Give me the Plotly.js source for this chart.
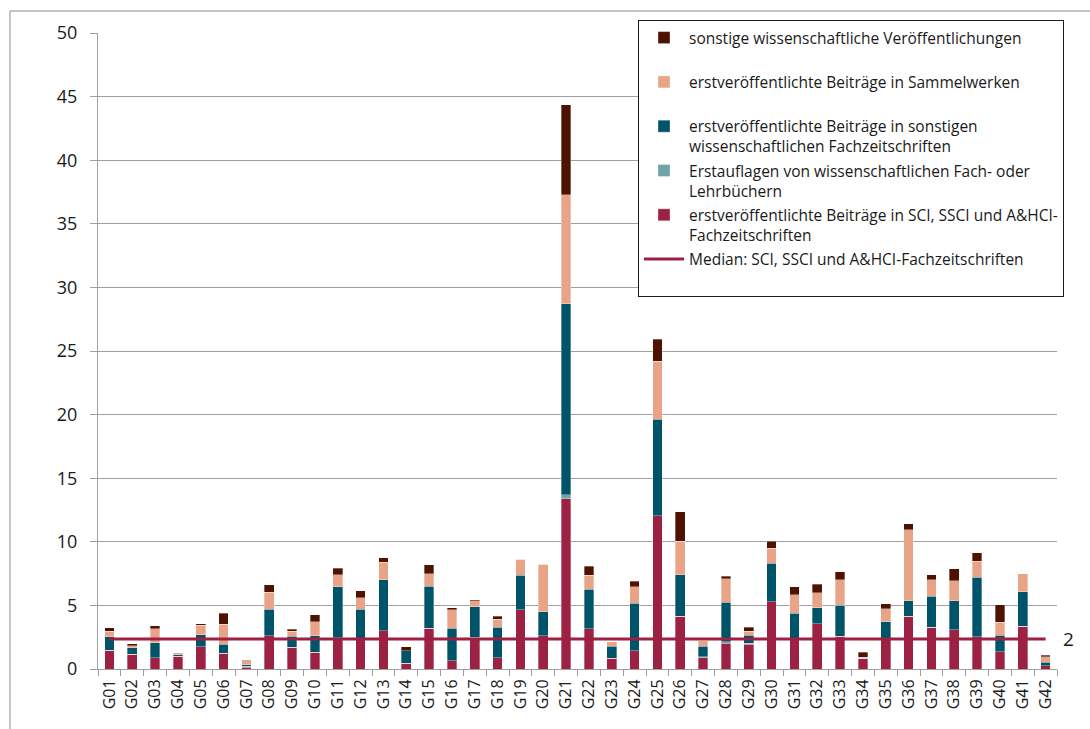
<!DOCTYPE html>
<html>
<head>
<meta charset="utf-8">
<script src="https://cdn.plot.ly/plotly-3.0.1.min.js"></script>
<style>html,body{margin:0;padding:0;background:#fff;}#chart{width:1090px;height:729px;}</style>
</head>
<body>
<div id="chart"></div>
<script>
const categories = ["G01","G02","G03","G04","G05","G06","G07","G08","G09","G10","G11","G12","G13","G14","G15","G16","G17","G18","G19","G20","G21","G22","G23","G24","G25","G26","G27","G28","G29","G30","G31","G32","G33","G34","G35","G36","G37","G38","G39","G40","G41","G42"];

// erstveröffentlichte Beiträge in SCI, SSCI und A&HCI-Fachzeitschriften
const sciJournals = [1.49,1.15,0.90,1.02,1.75,1.25,0.15,2.62,1.70,1.31,2.45,2.40,3.02,0.44,3.19,0.65,2.50,0.87,4.66,2.63,13.37,3.17,0.83,1.45,12.04,4.14,0.89,2.02,1.94,5.27,2.38,3.54,2.57,0.84,2.38,4.14,3.30,3.09,2.52,1.36,3.38,0.26];
// Erstauflagen von wissenschaftlichen Fach- oder Lehrbüchern
const textbooks = [0,0,0,0,0,0,0.05,0,0,0,0,0,0,0,0,0,0,0,0,0,0.33,0,0,0,0,0,0.08,0.13,0.08,0,0,0,0,0,0,0,0,0,0,0,0,0];
// erstveröffentlichte Beiträge in sonstigen wissenschaftlichen Fachzeitschriften
const otherJournals = [1.05,0.52,1.18,0.10,0.95,0.68,0.12,2.07,0.87,1.30,4.00,2.30,4.00,1.00,3.30,2.54,2.40,2.41,2.73,1.87,15.00,3.10,0.95,3.73,7.60,3.26,0.81,3.09,0.63,3.04,2.00,1.26,2.43,0.10,1.34,1.23,2.41,2.28,4.69,1.29,2.70,0.29];
// erstveröffentlichte Beiträge in Sammelwerken
const collections = [0.42,0.15,1.08,0.16,0.73,1.60,0.40,1.36,0.39,1.10,0.96,0.90,1.39,0,0.98,1.45,0.46,0.65,1.23,3.72,8.60,1.10,0.38,1.30,4.56,2.66,0.45,1.84,0.31,1.20,1.44,1.20,2.00,0,1.02,5.58,1.29,1.57,1.28,1.04,1.39,0.42];
// sonstige wissenschaftliche Veröffentlichungen
const otherPubs = [0.29,0.15,0.23,0,0.13,0.87,0,0.58,0.18,0.57,0.53,0.55,0.34,0.32,0.73,0.16,0.08,0.21,0,0,7.05,0.71,0,0.41,1.72,2.31,0,0.21,0.34,0.55,0.63,0.66,0.65,0.37,0.40,0.48,0.42,0.95,0.66,1.37,0,0.13];

const medianSCI = 2.35;
const medianLabel = "2";

const names = {
  other: "sonstige wissenschaftliche Veröffentlichungen<br> ",
  coll: "erstveröffentlichte Beiträge in Sammelwerken<br> ",
  oj: "erstveröffentlichte Beiträge in sonstigen<br>wissenschaftlichen Fachzeitschriften",
  tb: "Erstauflagen von wissenschaftlichen Fach- oder<br>Lehrbüchern",
  sci: "erstveröffentlichte Beiträge in SCI, SSCI und A&HCI-<br>Fachzeitschriften",
  med: "Median: SCI, SSCI und A&HCI-Fachzeitschriften<br> "
};

const colors = {
  other: "#4E1200",
  coll: "#E9A488",
  oj: "#00546A",
  tb: "#6FA5A6",
  sci: "#9C2143"
};

const barLine = {width: 0.6, color: "rgba(255,255,255,0.55)"};

function barTrace(y, key, rank) {
  return {
    type: "bar", x: categories, y: y, name: names[key],
    marker: {color: colors[key], line: barLine},
    legendrank: rank, legendgroup: key, hoverinfo: "x+y"
  };
}

const traces = [
  barTrace(sciJournals, "sci", 5),
  barTrace(textbooks, "tb", 4),
  barTrace(otherJournals, "oj", 3),
  barTrace(collections, "coll", 2),
  barTrace(otherPubs, "other", 1),
  {
    type: "scatter", mode: "lines", x: categories,
    y: categories.map(() => medianSCI),
    name: names.med, legendrank: 6, legendgroup: "med",
    line: {color: "#9C2143", width: 3}
  }
];

const gridColor = "#9f9f9f";
const fontFam = "'Open Sans', Lato, sans-serif";
const layout = {
  width: 1090, height: 729,
  margin: {l: 98, r: 33, t: 33, b: 60},
  paper_bgcolor: "#ffffff", plot_bgcolor: "#ffffff",
  barmode: "stack", bargap: 0.58,
  font: {family: fontFam, color: "#1a1a1a"},
  showlegend: true,
  legend: {
    x: 0.5631, y: 1.0204, xanchor: "left", yanchor: "top",
    bgcolor: "#ffffff", bordercolor: "#1a1a1a", borderwidth: 1,
    font: {size: 15.5, family: fontFam, color: "#1a1a1a"},
    traceorder: "grouped", tracegroupgap: 1, valign: "top", itemwidth: 40
  },
  xaxis: {
    type: "category", tickangle: -90, tickson: "boundaries",
    ticks: "outside", ticklen: 6, tickcolor: gridColor,
    showline: true, linecolor: gridColor, linewidth: 1,
    showgrid: false, tickfont: {size: 16}, ticklabelstandoff: 3,
    range: [-0.5, categories.length - 0.5]
  },
  yaxis: {
    range: [0, 50], dtick: 5, tick0: 0,
    ticks: "outside", ticklen: 7, tickcolor: gridColor,
    showline: true, linecolor: gridColor, linewidth: 1,
    showgrid: true, gridcolor: gridColor, gridwidth: 1,
    zeroline: false, tickfont: {size: 18}, ticklabelstandoff: 9
  },
  shapes: [
    {type: "rect", xref: "paper", yref: "paper",
     x0: -0.0918, x1: 1.06, y0: 1.0346, y1: -0.12,
     line: {color: "#8c8c8c", width: 1}, fillcolor: "rgba(0,0,0,0)", layer: "below"}
  ],
  annotations: [
    {xref: "paper", yref: "y", x: 1.0, y: medianSCI, xanchor: "left", yanchor: "middle",
     xshift: 4, text: medianLabel, showarrow: false, font: {size: 19, color: "#1a1a1a"}}
  ]
};

Plotly.newPlot("chart", traces, layout, {displayModeBar: false, staticPlot: true});
</script>
</body>
</html>
